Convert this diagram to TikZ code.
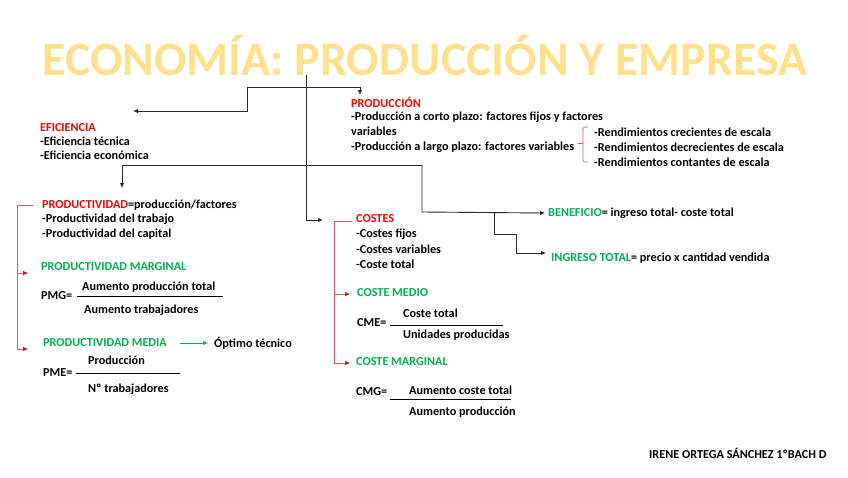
\documentclass[tikz,border=0pt]{standalone}
\usepackage{fontspec}
\setmainfont{Carlito}
\usetikzlibrary{arrows.meta}
\definecolor{titlecol}{RGB}{255,224,140}
\definecolor{redc}{RGB}{255,0,0}
\definecolor{redl}{RGB}{240,80,95}
\definecolor{greenc}{RGB}{0,176,80}
\definecolor{linec}{RGB}{40,40,40}
\tikzset{
  txt/.style={anchor=west,inner sep=0pt,font=\fontsize{12.2}{14}\selectfont\bfseries},
  redh/.style={txt,text=redc},
  greenh/.style={txt,text=greenc},
  conn/.style={draw=linec,line width=0.9pt,-{Latex[length=5pt,width=4.5pt]}},
  plain/.style={draw=linec,line width=0.9pt},
  redline/.style={draw=redl,line width=0.7pt},
  redarrow/.style={redline,-{Latex[length=5pt,width=4.5pt,color=redc]}},
  fracbar/.style={draw=black,line width=0.7pt},
}
\begin{document}
\begin{tikzpicture}[x=1pt,y=-1pt]
\useasboundingbox (0,0) rectangle (848,477);
% title
\node[font=\fontsize{48}{52}\selectfont\bfseries,text=titlecol,inner sep=0pt] (title) at (425,56) {ECONOMÍA: PRODUCCIÓN Y EMPRESA};
% junction coordinates
\coordinate (top) at (306,75);
\coordinate (j2) at (247,87);
\coordinate (j3) at (247,111);
\coordinate (j4) at (360,87);
\coordinate (j5) at (360,95);
\coordinate (efa) at (133,111);
\coordinate (h1) at (122,165);
\coordinate (h1b) at (122,188);
\coordinate (h2) at (422,165);
\coordinate (h3) at (422,212);
\coordinate (h4) at (494,212);
\coordinate (h5) at (494,234);
\coordinate (h6) at (516,234);
\coordinate (h7) at (516,253);
\coordinate (h8) at (546,253);
\coordinate (v1) at (306,220);
\coordinate (v2) at (323,220);
% texts
\node[redh] (prod) at (351,102) {PRODUCCIÓN};
\node[txt] (p1) at (351,117) {-Producción a corto plazo: factores fijos y factores};
\node[txt] (p2) at (351,131) {variables};
\node[txt] (p3) at (351,147) {-Producción a largo plazo: factores variables};
\node[txt] (r1) at (594,132) {-Rendimientos crecientes de escala};
\node[txt] (r2) at (594,147) {-Rendimientos decrecientes de escala};
\node[txt] (r3) at (594,162) {-Rendimientos contantes de escala};
\node[redh] (efi) at (40,128) {EFICIENCIA};
\node[txt] (e1) at (40,141) {-Eficiencia técnica};
\node[txt] (e2) at (40,155) {-Eficiencia económica};
\node[txt] (pvd) at (42,205) {\textcolor{redc}{PRODUCTIVIDAD}=producción/factores};
\node[txt] (pv1) at (42,219) {-Productividad del trabajo};
\node[txt] (pv2) at (42,234) {-Productividad del capital};
\node[greenh] (pmgt) at (41,267) {PRODUCTIVIDAD MARGINAL};
\node[txt] (pmg) at (41,296) {PMG=};
\node[txt] (pmgn) at (82,287) {Aumento producción total};
\node[txt] (pmgd) at (84,310) {Aumento trabajadores};
\node[greenh] (pmet) at (43,343) {PRODUCTIVIDAD MEDIA};
\node[txt] (opt) at (214,343) {Óptimo técnico};
\node[txt] (pme) at (43,373) {PME=};
\node[txt] (pmen) at (88,360) {Producción};
\node[txt] (pmed) at (88,389) {Nº trabajadores};
\node[redh] (cos) at (356,219) {COSTES};
\node[txt] (c1) at (356,234) {-Costes fijos};
\node[txt] (c2) at (356,249) {-Costes variables};
\node[txt] (c3) at (356,264) {-Coste total};
\node[greenh] (cmet) at (357,293) {COSTE MEDIO};
\node[txt] (cme) at (357,323) {CME=};
\node[txt] (cmen) at (403,313) {Coste total};
\node[txt] (cmed) at (403,335) {Unidades producidas};
\node[greenh] (cmgt) at (356,362) {COSTE MARGINAL};
\node[txt] (cmg) at (356,392) {CMG=};
\node[txt] (cmgn) at (409,390) {Aumento coste total};
\node[txt] (cmgd) at (409,412) {Aumento producción};
\node[txt] (ben) at (548,213) {\textcolor{greenc}{BENEFICIO}= ingreso total- coste total};
\node[txt] (ing) at (551,258) {\textcolor{greenc}{INGRESO TOTAL}= precio x cantidad vendida};
\node[txt] (firma) at (649,453) {IRENE ORTEGA SÁNCHEZ 1ºBACH D};
% black connectors
\draw[plain] (top) -- (v1);
\draw[conn] (v1) -- (v2);
\draw[conn] (j2) -- (j4) -- (j5);
\draw[conn] (j2) -- (j3) -- (efa);
\draw[plain] (h1) -- (h2);
\draw[conn] (h1) -- (h1b);
\draw[conn] (h2) -- (h3) -- ([xshift=-3pt]ben.west);
\draw[conn] (h4) -- (h5) -- (h6) -- (h7) -- (h8);
% red brackets
\draw[redline] (33,205) -- (17,205) -- (17,349);
\draw[redarrow] (17,273) -- (28,273);
\draw[redarrow] (17,349) -- (28,349);
\draw[redline] (352,221) -- (334,221) -- (334,363);
\draw[redarrow] (334,294) -- (350,294);
\draw[redarrow] (334,363) -- (350,363);
\draw[redline,rounded corners=2pt] (588,127) -- (583,127) -- (583,162) -- (588,162);
\draw[redline] (583,143) -- (578,143);
% green arrow
\draw[draw=greenc,line width=0.9pt,-{Latex[length=5pt,width=4.5pt]}] (180,343) -- (208,343);
% fraction bars
\draw[fracbar] (77,296) -- (223,296);
\draw[fracbar] (76,373) -- (180,373);
\draw[fracbar] (390,325) -- (503,325);
\draw[fracbar] (390,399) -- (511,399);
\end{tikzpicture}
\end{document}
